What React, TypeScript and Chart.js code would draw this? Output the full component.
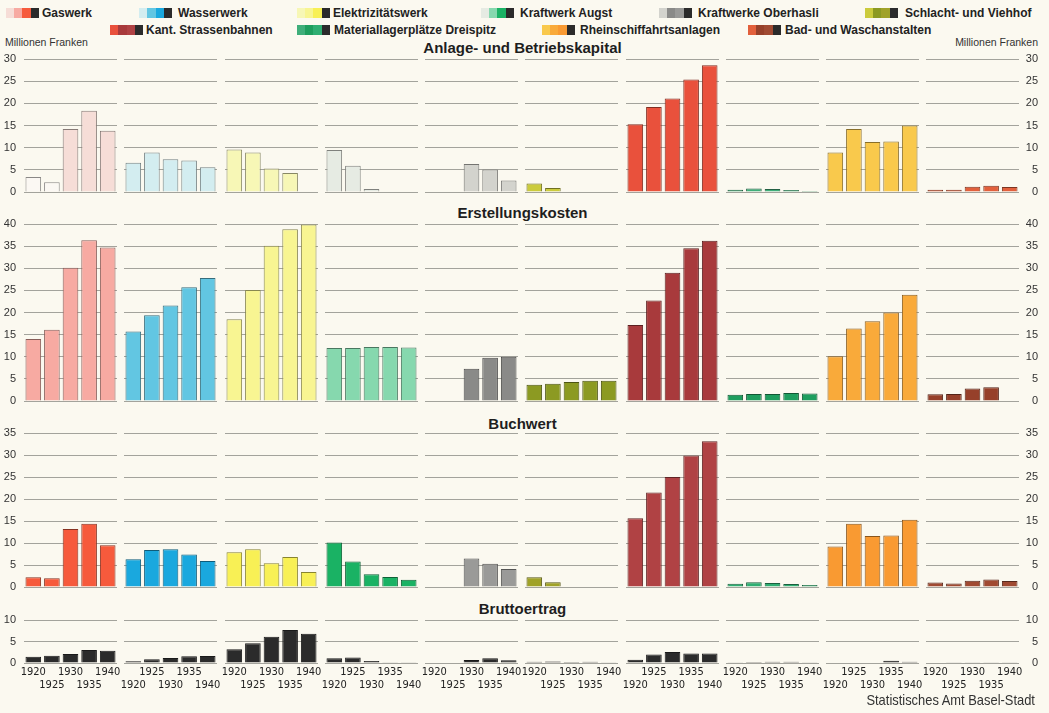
import React, { useEffect, useRef } from "react";
import { Chart, registerables } from "chart.js";

Chart.register(...registerables);

// ---------------- DATA ----------------
const years = ["1920", "1925", "1930", "1935", "1940"];

const enterprises = [
  "Gaswerk",
  "Wasserwerk",
  "Elektrizitätswerk",
  "Kraftwerk Augst",
  "Kraftwerke Oberhasli",
  "Schlacht- und Viehhof",
  "Kant. Strassenbahnen",
  "Materiallagerplätze Dreispitz",
  "Rheinschiffahrtsanlagen",
  "Bad- und Waschanstalten",
];

const sectionTitles = ["Anlage- und Betriebskapital", "Erstellungskosten", "Buchwert", "Bruttoertrag"];
const sectionMax = [30, 40, 35, 10];
const tickStep = 5;

// Millionen Franken, one list per enterprise (order as in `enterprises`), values for 1920..1940
const anlageBetriebskapital = [
  [3.4, 2.2, 14.2, 18.3, 13.8],
  [6.6, 8.9, 7.4, 7.1, 5.6],
  [9.6, 8.9, 5.3, 4.3, null],
  [9.5, 5.9, 0.7, null, null],
  [null, null, 6.3, 5.1, 2.6],
  [1.9, 0.9, null, null, null],
  [15.3, 19.2, 21.1, 25.4, 28.6],
  [0.5, 0.8, 0.7, 0.45, 0.25],
  [8.9, 14.2, 11.3, 11.4, 15.0],
  [0.5, 0.5, 1.2, 1.4, 1.1],
];

const erstellungskosten = [
  [14.0, 16.1, 30.1, 36.3, 34.7],
  [15.7, 19.4, 21.6, 25.7, 27.8],
  [18.5, 25.1, 35.1, 38.8, 39.9],
  [12.0, 12.0, 12.2, 12.2, 12.1],
  [null, null, 7.3, 9.8, 10.0],
  [3.7, 3.9, 4.3, 4.6, 4.6],
  [17.2, 22.7, 29.0, 34.5, 36.2],
  [1.4, 1.6, 1.6, 1.8, 1.7],
  [10.1, 16.4, 18.0, 20.0, 24.0],
  [1.5, 1.6, 2.8, 3.1, null],
];

const buchwert = [
  [2.2, 2.0, 13.2, 14.4, 9.5],
  [6.3, 8.4, 8.6, 7.4, 5.9],
  [7.9, 8.6, 5.4, 6.8, 3.4],
  [10.1, 5.8, 2.9, 2.25, 1.65],
  [null, null, 6.5, 5.3, 4.1],
  [2.2, 1.1, null, null, null],
  [15.6, 21.5, 25.0, 29.9, 33.1],
  [0.75, 1.1, 0.9, 0.7, 0.45],
  [9.2, 14.4, 11.6, 11.7, 15.3],
  [1.0, 0.8, 1.4, 1.7, 1.35],
];

const bruttoertrag = [
  [1.45, 1.7, 2.1, 3.0, 2.85],
  [0.4, 0.85, 1.15, 1.55, 1.6],
  [3.2, 4.6, 6.1, 7.7, 6.8],
  [1.1, 1.3, 0.45, 0.15, 0.15],
  [null, null, 0.7, 1.1, 0.65],
  [0.3, 0.35, 0.25, 0.3, 0.2],
  [0.75, 2.0, 2.55, 2.2, 2.2],
  [0.2, 0.25, 0.3, 0.3, 0.15],
  [0.1, 0.1, 0.1, 0.5, 0.3],
  [0.1, 0.15, 0.15, 0.15, 0.15],
];

const sectionValues = [anlageBetriebskapital, erstellungskosten, buchwert, bruttoertrag];

// year labels: "A" = 1920/1930/1940 on the first line, "B" = 1925/1935 on the first line
const yearLabelLayout = ["A", "B", "A", "B", "A", "A", "B", "A", "B", "A"];

// ---------------- STYLES ----------------
const BG = "#fbf9f0";
const GRID_COLOR = "#a3a39c";
const TEXT = "#222";

const rowColors = [
  ["#f6ddd7", "#d3edf0", "#f7f7b6", "#e6ebe3", "#d3d3cd", "#cbcb3c", "#e9513c", "#3fae7a", "#f9c94c", "#e2603c"],
  ["#f7aaa2", "#62c6e2", "#f8f592", "#86d8ae", "#8a8a88", "#8c9a22", "#a83a3c", "#1e9e5e", "#f9aa3a", "#96402a"],
  ["#f65a3c", "#1aa8de", "#f8f055", "#1ab264", "#9a9a98", "#a0a228", "#b04244", "#2fae72", "#f99a32", "#a04a32"],
  ["#2b2b2b", "#2b2b2b", "#2b2b2b", "#2b2b2b", "#2b2b2b", "#2b2b2b", "#2b2b2b", "#2b2b2b", "#2b2b2b", "#2b2b2b"],
];
const lightBar = "#fbf8f3";

const GRID_X0 = 24;
const COL_PITCH = 100.25;
const PANEL_W = 93;
const SIDE_PAD = 6;
const rowTop = [59, 224, 433, 620];
const rowBottom = [192, 401, 587, 663];
const RIGHT_AXIS_RIGHT = 1038;
const X_AXIS_H = 32;

const tickFont = { family: "'Liberation Sans', Arial, sans-serif", size: 11 };
const yearFont = {
  family: "'DejaVu Sans Condensed', 'Liberation Sans Narrow', 'Arial Narrow', 'DejaVu Sans', sans-serif",
  size: 11,
  lineHeight: 1.2,
};

function darken(hex: string, f: number) {
  const n = parseInt(hex.slice(1), 16);
  const r = Math.round(((n >> 16) & 255) * f);
  const g = Math.round(((n >> 8) & 255) * f);
  const b = Math.round((n & 255) * f);
  return `rgb(${r},${g},${b})`;
}

function geometry(row: number, col: number) {
  const areaLeft = Math.round(GRID_X0 + col * COL_PITCH);
  let left: number, width: number, padL: number, padR: number, axisW: number;
  if (col === 0) {
    left = 0;
    padL = 0;
    padR = SIDE_PAD;
    axisW = areaLeft;
    width = areaLeft + PANEL_W + SIDE_PAD;
  } else if (col === 9) {
    left = areaLeft - SIDE_PAD;
    padL = SIDE_PAD;
    padR = 2;
    axisW = RIGHT_AXIS_RIGHT - (areaLeft + PANEL_W);
    width = RIGHT_AXIS_RIGHT + padR - left;
  } else {
    left = areaLeft - SIDE_PAD;
    padL = SIDE_PAD;
    padR = SIDE_PAD;
    axisW = 0;
    width = PANEL_W + 2 * SIDE_PAD;
  }
  const padT = 8;
  const padB = row === 3 ? 0 : 8;
  const xh = row === 3 ? X_AXIS_H : 0;
  const top = rowTop[row] - padT;
  const height = rowBottom[row] - rowTop[row] + padT + padB + xh;
  return { left, top, width, height, padL, padR, padT, padB, axisW, xh };
}

function Panel({ row, col }: { row: number; col: number }) {
  const ref = useRef<HTMLCanvasElement>(null);
  const g = geometry(row, col);
  useEffect(() => {
    if (!ref.current) return;
    const values = sectionValues[row][col];
    const base = rowColors[row][col];
    const bg = years.map((_, i) => (row === 0 && col === 0 && i < 2 ? lightBar : base));
    const bd = bg.map((c) => darken(c, row === 3 ? 0.6 : 0.55));
    const showY = col === 0 || col === 9;
    const chart = new Chart(ref.current, {
      type: "bar",
      data: {
        labels: years,
        datasets: [
          {
            data: values as any,
            backgroundColor: bg,
            borderColor: bd,
            borderWidth: 1,
            borderSkipped: "start",
            categoryPercentage: 1,
            barPercentage: 0.84,
          },
        ],
      },
      options: {
        responsive: false,
        animation: false,
        devicePixelRatio: 1,
        events: [],
        layout: { padding: { left: g.padL, right: g.padR, top: g.padT, bottom: g.padB } },
        plugins: { legend: { display: false }, tooltip: { enabled: false }, title: { display: false } },
        scales: {
          x: {
            display: row === 3,
            offset: true,
            grid: { display: false, drawTicks: false },
            border: { display: false },
            ticks: {
              autoSkip: false,
              maxRotation: 0,
              minRotation: 0,
              padding: 2.5,
              font: yearFont as any,
              color: TEXT,
              callback: (_v: any, i: number) => {
                const firstLine = yearLabelLayout[col] === "A" ? i % 2 === 0 : i % 2 === 1;
                return firstLine ? [years[i], ""] : ["", years[i]];
              },
            },
            afterFit: (s: any) => {
              s.height = g.xh;
              s.paddingLeft = 0;
              s.paddingRight = 0;
            },
          },
          y: {
            position: col === 9 ? "right" : "left",
            min: 0,
            max: sectionMax[row],
            grid: { color: GRID_COLOR, lineWidth: 1, drawTicks: false },
            border: { display: false },
            ticks: {
              stepSize: tickStep,
              display: showY,
              padding: 8,
              crossAlign: col === 9 ? "far" : "near",
              font: tickFont,
              color: "#333",
            },
            afterFit: (s: any) => {
              s.width = g.axisW;
              s.paddingTop = 0;
              s.paddingBottom = 0;
            },
          },
        },
      },
    } as any);
    return () => chart.destroy();
  }, [row, col]);
  return (
    <canvas
      ref={ref}
      width={g.width}
      height={g.height}
      style={{ position: "absolute", left: g.left, top: g.top, width: g.width, height: g.height, display: "block" }}
    />
  );
}

const legendItems = [
  { idx: 0, sx: 6, tx: 42, y: 12.5 },
  { idx: 1, sx: 139, tx: 178, y: 12.5 },
  { idx: 2, sx: 297, tx: 333, y: 12.5 },
  { idx: 3, sx: 481, tx: 520, y: 12.5 },
  { idx: 4, sx: 659, tx: 698, y: 12.5 },
  { idx: 5, sx: 865, tx: 905, y: 12.5 },
  { idx: 6, sx: 110, tx: 146, y: 30 },
  { idx: 7, sx: 297, tx: 334, y: 30 },
  { idx: 8, sx: 542, tx: 580, y: 30 },
  { idx: 9, sx: 748, tx: 785, y: 30 },
];

const titleCenters = [48, 213, 424, 609];

export default function App() {
  return (
    <div
      style={{
        position: "fixed",
        left: 0,
        top: 0,
        width: 1049,
        height: 713,
        background: BG,
        overflow: "hidden",
        fontFamily: "'Liberation Sans', Arial, sans-serif",
        color: TEXT,
      }}
    >
      {legendItems.map((l) => (
        <React.Fragment key={l.idx}>
          <div
            style={{
              position: "absolute",
              left: l.sx,
              top: l.y - 5,
              width: 33,
              height: 10,
              background: `linear-gradient(to right, ${rowColors[0][l.idx]} 0 25%, ${rowColors[1][l.idx]} 25% 50%, ${rowColors[2][l.idx]} 50% 75%, #2b2b2b 75% 100%)`,
            }}
          />
          <div
            style={{
              position: "absolute",
              left: l.tx,
              top: l.y - 8,
              height: 16,
              lineHeight: "16px",
              fontSize: 12,
              fontWeight: "bold",
              whiteSpace: "nowrap",
            }}
          >
            {enterprises[l.idx]}
          </div>
        </React.Fragment>
      ))}

      <div style={{ position: "absolute", left: 5, top: 35, fontSize: 10.5, lineHeight: "14px", whiteSpace: "nowrap", color: "#333" }}>
        Millionen Franken
      </div>
      <div
        style={{
          position: "absolute",
          right: 1049 - 1038,
          top: 35,
          fontSize: 10.5,
          lineHeight: "14px",
          whiteSpace: "nowrap",
          color: "#333",
        }}
      >
        Millionen Franken
      </div>

      {sectionTitles.map((t, r) => (
        <div
          key={t}
          style={{
            position: "absolute",
            left: 0,
            width: 1045,
            top: titleCenters[r] - 10,
            height: 20,
            lineHeight: "20px",
            textAlign: "center",
            fontSize: 15,
            fontWeight: "bold",
            color: "#1e1e1e",
          }}
        >
          {t}
        </div>
      ))}

      {sectionTitles.map((_, r) =>
        enterprises.map((_, c) => <Panel key={`${r}-${c}`} row={r} col={c} />)
      )}

      <div
        style={{
          position: "absolute",
          right: 1049 - 1035,
          top: 691,
          height: 18,
          lineHeight: "18px",
          fontSize: 15,
          whiteSpace: "nowrap",
          color: "#333",
          transform: "scaleX(0.86)",
          transformOrigin: "right center",
        }}
      >
        Statistisches Amt Basel-Stadt
      </div>
    </div>
  );
}
